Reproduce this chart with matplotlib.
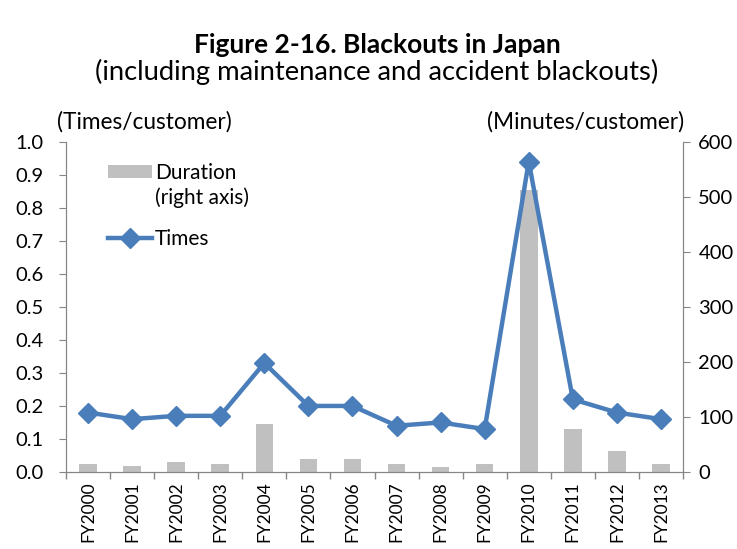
import matplotlib.pyplot as plt
from matplotlib.patches import Patch
from matplotlib.lines import Line2D
import numpy as np

plt.rcParams['font.family'] = ['Lato', 'DejaVu Sans']

years = ["FY2000", "FY2001", "FY2002", "FY2003", "FY2004", "FY2005", "FY2006",
         "FY2007", "FY2008", "FY2009", "FY2010", "FY2011", "FY2012", "FY2013"]
times = [0.18, 0.16, 0.17, 0.17, 0.33, 0.20, 0.20, 0.14, 0.15, 0.13, 0.94, 0.22, 0.18, 0.16]
duration = [15, 11, 18, 15, 87, 24, 24, 15, 9, 15, 512, 78, 38, 15]

blue = "#4a7ebb"
grey = "#c0c0c0"
spine = "#868686"

fig = plt.figure(figsize=(7.37, 5.49), dpi=100)
ax = fig.add_axes([66 / 737, 1 - 472 / 549, 617 / 737, 330.3 / 549])
ax2 = ax.twinx()

x = np.arange(len(years))
ax2.bar(x, duration, width=0.4, color=grey, zorder=1)
ax.plot(x, times, color=blue, lw=3.2, marker="D", ms=10, zorder=3)

# line on top of bars
ax.set_zorder(ax2.get_zorder() + 1)
ax.patch.set_visible(False)

ax.set_xlim(-0.5, len(years) - 0.5)
ax.set_ylim(0, 1.0)
ax2.set_ylim(0, 600)
yt = np.arange(0, 1.01, 0.1)
ax.set_yticks(yt)
ax.set_yticklabels([f"{v:.1f}" for v in yt])
ax2.set_yticks(range(0, 601, 100))

ax.set_xticks(x)
ax.set_xticklabels(years, rotation=90)
ax.set_xticks(np.arange(-0.5, len(years), 1), minor=True)
ax.tick_params(axis="x", which="major", length=0, pad=7, labelsize=12.5)
ax.tick_params(axis="x", which="minor", length=5, color=spine, width=1)

for a in (ax, ax2):
    a.spines["top"].set_visible(False)
    for s in ("left", "right", "bottom"):
        a.spines[s].set_color(spine)
    a.tick_params(axis="y", length=5, color=spine, labelsize=14.5)
ax.tick_params(axis="y", pad=11)
ax2.tick_params(axis="y", pad=6)

handles = [Patch(facecolor=grey, edgecolor="none"),
           Line2D([], [], color=blue, lw=3.2, marker="D", ms=10)]
leg = ax.legend(handles, ["Duration", "Times"], loc="upper left",
                bbox_to_anchor=(0.068, 0.935), frameon=False, fontsize=15,
                handlelength=2.1, handleheight=0.6, handletextpad=0.15,
                labelspacing=2.2, borderpad=0, borderaxespad=0)
# second line of the bar label, drawn after the legend has been laid out
ax.annotate("(right axis)", xy=(0, 0), xycoords=leg.get_texts()[0],
            xytext=(0, -3), textcoords="offset points", va="top", ha="left",
            fontsize=15, zorder=10)

fig.text(377 / 737, 1 - 45 / 549, "Figure 2-16. Blackouts in Japan",
         ha="center", va="center", fontsize=19, fontweight="bold")
fig.text(377 / 737, 1 - 72 / 549, "(including maintenance and accident blackouts)",
         ha="center", va="center", fontsize=19.7)
fig.text(57 / 737, 1 - 122 / 549, "(Times/customer)", ha="left", va="center", fontsize=16.3)
fig.text(684 / 737, 1 - 122 / 549, "(Minutes/customer)", ha="right", va="center", fontsize=16.3)

fig.savefig("out.png", dpi=100)
